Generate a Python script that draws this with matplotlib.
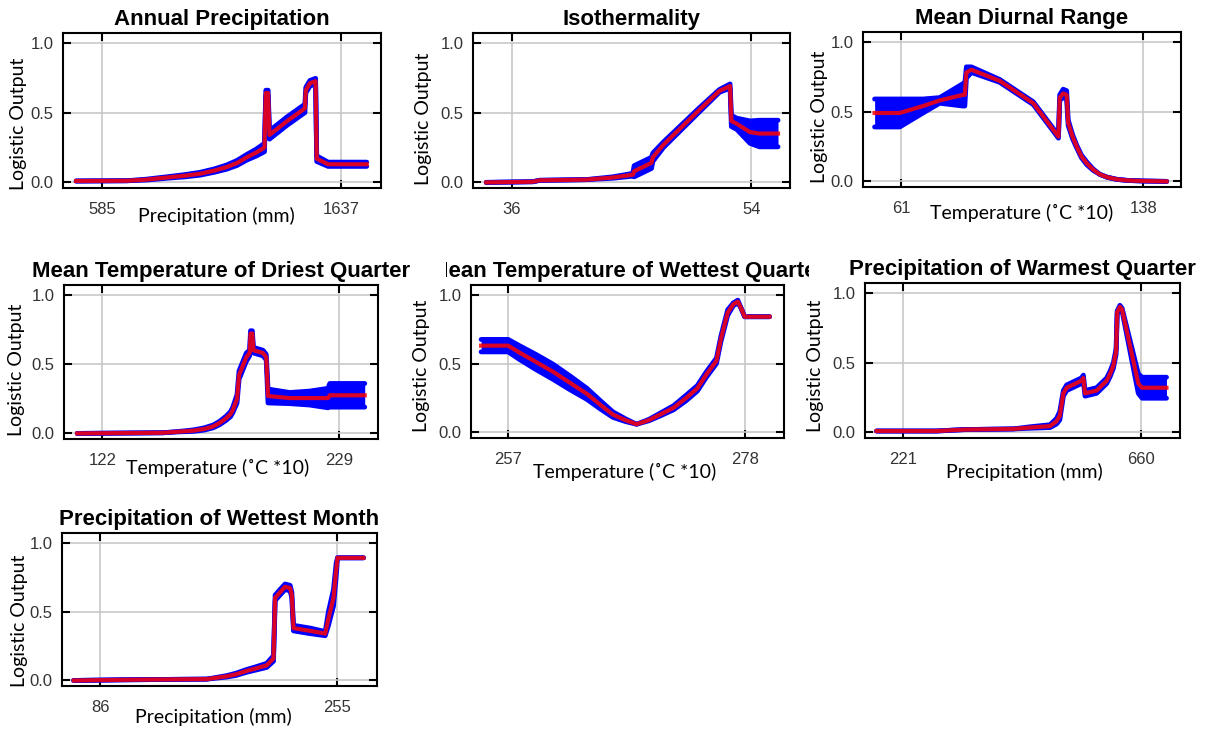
import numpy as np
import matplotlib.pyplot as plt
from matplotlib.transforms import Bbox, TransformedBbox

plt.rcParams['font.family'] = ['Liberation Sans', 'DejaVu Sans']

# MaxEnt response curves: mean logistic output and its SD
ann_x = [471, 694, 780, 870, 950, 1016, 1080, 1134, 1180, 1222, 1265, 1300, 1306, 1316, 1322, 1400, 1478, 1482, 1500, 1525, 1530, 1580, 1750]
ann_mean = [0.01, 0.012, 0.02, 0.035, 0.048, 0.062, 0.085, 0.11, 0.14, 0.18, 0.215, 0.25, 0.64, 0.64, 0.34, 0.44, 0.53, 0.66, 0.71, 0.725, 0.17, 0.13, 0.13]
ann_sd = [0, 0, 0.003, 0.005, 0.008, 0.01, 0.012, 0.015, 0.018, 0.02, 0.025, 0.03, 0.02, 0.02, 0.03, 0.03, 0.03, 0.02, 0.02, 0.02, 0.02, 0.015, 0.015]

iso_x = [34.1, 37.6, 38.1, 41.6, 43.6, 45.1, 45.2, 46.5, 46.6, 47.4, 50.1, 51.6, 52.4, 52.5, 52.9, 53.9, 54.6, 56.0]
iso_mean = [0.0, 0.005, 0.015, 0.02, 0.035, 0.055, 0.08, 0.14, 0.18, 0.27, 0.52, 0.655, 0.69, 0.44, 0.42, 0.36, 0.35, 0.35]
iso_sd = [0, 0, 0, 0, 0.005, 0.01, 0.04, 0.04, 0.03, 0.02, 0.015, 0.01, 0.015, 0.04, 0.04, 0.08, 0.095, 0.095]

mdr_x = [52.5, 60.5, 67.9, 73.2, 80.6, 81.2, 81.7, 83.3, 92.3, 103.0, 111.0, 111.4, 112.5, 113.6, 114.1, 115.5, 116.8, 118.3, 120.0, 122.0, 124.2, 126.5, 129.5, 133.0, 138.0, 145.4]
mdr_mean = [0.49, 0.49, 0.54, 0.58, 0.62, 0.62, 0.78, 0.80, 0.72, 0.56, 0.32, 0.60, 0.63, 0.62, 0.42, 0.32, 0.25, 0.18, 0.13, 0.085, 0.05, 0.03, 0.015, 0.007, 0.003, 0.0]
mdr_sd = [0.1, 0.1, 0.05, 0.02, 0.08, 0.08, 0.04, 0.02, 0.01, 0.01, 0.01, 0.02, 0.03, 0.03, 0.02, 0.015, 0.01, 0.01, 0.01, 0.005, 0, 0, 0, 0, 0, 0]

mtdq_x = [110.7, 149.4, 153.9, 163.0, 168.0, 172.0, 175.0, 178.0, 180.0, 181.0, 182.9, 183.8, 187.1, 188.6, 189.0, 189.8, 190.3, 194.6, 196.1, 196.9, 206.7, 215.7, 224.0, 224.8, 240.6]
mtdq_mean = [0.0, 0.005, 0.01, 0.02, 0.032, 0.05, 0.075, 0.11, 0.14, 0.17, 0.25, 0.42, 0.55, 0.58, 0.72, 0.72, 0.60, 0.58, 0.55, 0.27, 0.255, 0.255, 0.255, 0.275, 0.275]
mtdq_sd = [0, 0, 0, 0.005, 0.008, 0.01, 0.012, 0.015, 0.018, 0.02, 0.03, 0.03, 0.03, 0.02, 0.02, 0.02, 0.02, 0.02, 0.02, 0.05, 0.04, 0.05, 0.07, 0.085, 0.085]

mtwq_x = [254.6, 257.0, 258.0, 259.5, 261.0, 262.5, 264.0, 265.2, 266.3, 267.4, 268.4, 269.5, 270.5, 271.7, 272.8, 273.8, 274.6, 275.5, 275.9, 276.5, 277.0, 277.4, 277.7, 278.0, 280.2]
mtwq_mean = [0.63, 0.63, 0.58, 0.51, 0.44, 0.36, 0.28, 0.20, 0.13, 0.09, 0.06, 0.09, 0.13, 0.18, 0.25, 0.32, 0.42, 0.52, 0.68, 0.87, 0.93, 0.95, 0.90, 0.84, 0.84]
mtwq_sd = [0.045, 0.045, 0.05, 0.055, 0.055, 0.05, 0.04, 0.03, 0.02, 0.01, 0, 0.005, 0.01, 0.015, 0.02, 0.02, 0.02, 0.02, 0.02, 0.02, 0.01, 0.01, 0, 0, 0]

pwq_x = [171.7, 282.6, 331.8, 424.0, 455.0, 492.0, 504.0, 510.0, 516.6, 522.7, 550.0, 553.5, 556.6, 578.0, 596.6, 603.0, 609.0, 614.0, 616.0, 621.0, 625.0, 655.0, 662.0, 707.0]
pwq_mean = [0.01, 0.01, 0.02, 0.025, 0.035, 0.045, 0.08, 0.12, 0.28, 0.32, 0.37, 0.39, 0.28, 0.30, 0.37, 0.42, 0.48, 0.58, 0.86, 0.90, 0.88, 0.35, 0.32, 0.32]
pwq_sd = [0, 0, 0, 0, 0.005, 0.01, 0.02, 0.03, 0.02, 0.02, 0.02, 0.02, 0.02, 0.02, 0.02, 0.02, 0.02, 0.02, 0.01, 0.01, 0.01, 0.07, 0.075, 0.075]

pwm_x = [66.9, 102.2, 161.9, 176.2, 183.0, 190.6, 198.0, 204.9, 209.7, 210.9, 214.4, 218.0, 221.6, 222.8, 224.0, 235.9, 246.7, 249.0, 252.6, 254.5, 255.5, 274.0]
pwm_mean = [0.0, 0.005, 0.01, 0.03, 0.045, 0.07, 0.09, 0.11, 0.16, 0.60, 0.64, 0.68, 0.67, 0.62, 0.38, 0.36, 0.34, 0.45, 0.60, 0.80, 0.89, 0.89]
pwm_sd = [0, 0, 0, 0.005, 0.008, 0.01, 0.012, 0.015, 0.02, 0.02, 0.02, 0.02, 0.02, 0.02, 0.02, 0.02, 0.015, 0.05, 0.06, 0.05, 0, 0]

titles = ['Annual Precipitation', 'Isothermality', 'Mean Diurnal Range',
          'Mean Temperature of Driest Quarter', 'Mean Temperature of Wettest Quarter',
          'Precipitation of Warmest Quarter', 'Precipitation of Wettest Month']
xlabels = ['Precipitation (mm)', '', 'Temperature (˚C *10)', 'Temperature (˚C *10)',
           'Temperature (˚C *10)', 'Precipitation (mm)', 'Precipitation (mm)']
xticks = [[585, 1637], [36, 54], [61, 138], [122, 229], [257, 278], [221, 660], [86, 255]]
xlims = [(413, 1813), (33.1, 56.9), (48.8, 150.0), (104.7, 246.6), (253.7, 281.5), (150.2, 732), (58.5, 283.7)]
curves = [(ann_x, ann_mean, ann_sd), (iso_x, iso_mean, iso_sd), (mdr_x, mdr_mean, mdr_sd),
          (mtdq_x, mtdq_mean, mtdq_sd), (mtwq_x, mtwq_mean, mtwq_sd),
          (pwq_x, pwq_mean, pwq_sd), (pwm_x, pwm_mean, pwm_sd)]

# layout (pixels on a 1209x730 canvas): axes box, ylabel centre, xlabel centre
W, H = 1209, 730
boxes = [(63, 33, 381, 188), (473, 33, 790, 188), (863, 32, 1181, 187),
         (64, 285, 378, 439), (471, 285, 784, 438), (865, 283, 1180, 438),
         (62, 533, 377, 686)]
ylab_pos = [(18, 124), (424, 119), (820, 117), (17, 370), (421, 366), (815, 366), (19, 621)]
xlab_pos = [(216, 216), None, (1022, 213), (218, 468), (625, 472), (1024, 472), (213, 717)]
title_clip = [None, None, None, None, (446, 809), None, None]

fig = plt.figure(figsize=(W / 100, H / 100), dpi=100)
lab_font = ['Lato', 'DejaVu Sans']

for i in range(len(titles)):
    x0, y0, x1, y1 = boxes[i]
    ax = fig.add_axes([x0 / W, 1 - y1 / H, (x1 - x0) / W, (y1 - y0) / H])
    x, m, s = (np.array(a, dtype=float) for a in curves[i])
    ax.fill_between(x, m - s, m + s, color='#0000ff', lw=0, zorder=2)
    for edge in (m - s, m + s):
        ax.plot(x, edge, color='#0000ff', lw=3.5, solid_joinstyle='round',
                solid_capstyle='round', zorder=2)
    ax.plot(x, m, color='#ff0000', lw=3, alpha=0.85, solid_joinstyle='round', zorder=3)

    ax.set_xlim(*xlims[i])
    ax.set_ylim(-0.04, 1.07)
    ax.set_xticks(xticks[i])
    ax.set_yticks([0, 0.5, 1.0])
    ax.set_yticklabels(['0.0', '0.5', '1.0'])
    ax.grid(True, color='#c8c8c8', lw=1.2)
    ax.set_axisbelow(True)
    for sp in ax.spines.values():
        sp.set_linewidth(1.5)
    ax.tick_params(direction='in', length=6, width=1.5, top=True, right=True,
                   labelsize=12, labelcolor='#333333')
    ax.tick_params(axis='x', pad=10)
    ax.tick_params(axis='y', pad=7)

    t = ax.set_title(titles[i], fontsize=16, fontweight='bold', pad=6)
    if title_clip[i]:
        cx0, cx1 = title_clip[i]
        t.set_clip_box(TransformedBbox(Bbox.from_extents(cx0 / W, 0, cx1 / W, 1), fig.transFigure))
        t.set_clip_on(True)

    ax.set_ylabel('Logistic Output', fontsize=14, family=lab_font, va='center')
    lx, ly = ylab_pos[i]
    ax.yaxis.set_label_coords((lx - x0) / (x1 - x0), (y1 - ly) / (y1 - y0))
    if xlabels[i]:
        ax.set_xlabel(xlabels[i], fontsize=14, family=lab_font, va='center')
        lx, ly = xlab_pos[i]
        ax.xaxis.set_label_coords((lx - x0) / (x1 - x0), (y1 - ly) / (y1 - y0))

fig.savefig('out.png', dpi=100)
